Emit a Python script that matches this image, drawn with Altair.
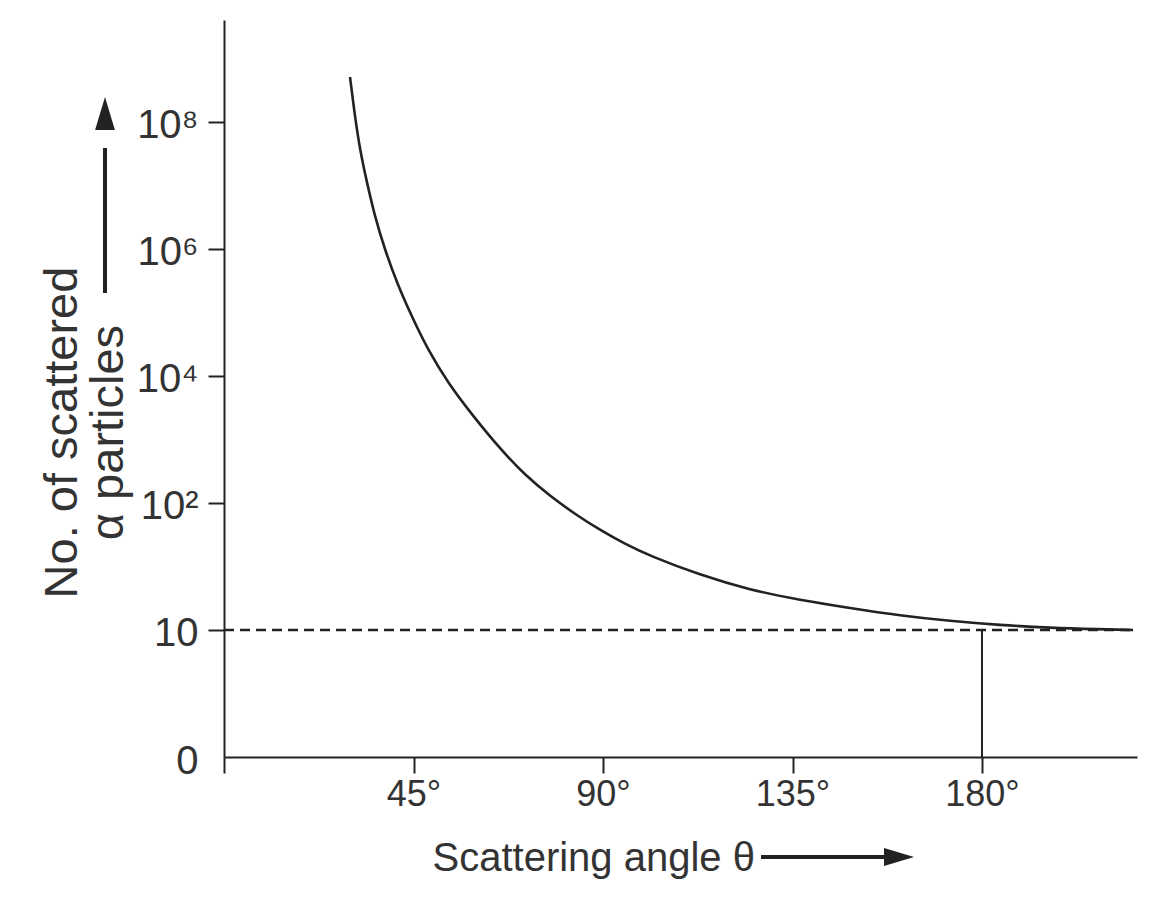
import altair as alt
import pandas as pd

# ---- data ----
# scattering angle (degrees) and curve height in axis-level units
# (levels: 0 -> "0", 1 -> "10", 2 -> "10²", 3 -> "10⁴", 4 -> "10⁶", 5 -> "10⁸")
theta = [29.92, 31.11, 32.30, 33.96, 35.86, 38.23, 41.08, 44.64, 48.44, 53.19,
         59.13, 66.02, 71.48, 77.41, 83.35, 89.29, 95.22, 101.16, 113.03,
         124.91, 136.78, 148.65, 160.53, 172.40, 184.27, 196.15, 208.02, 215.86]
level = [5.354, 5.039, 4.780, 4.520, 4.252, 3.992, 3.732, 3.465, 3.205, 2.945,
         2.685, 2.409, 2.220, 2.055, 1.913, 1.787, 1.677, 1.583, 1.433,
         1.315, 1.236, 1.173, 1.114, 1.071, 1.039, 1.017, 1.006, 1.000]

y_tick_values = [0, 1, 2, 3, 4, 5]
y_tick_labels = ["0", "10", "10²", "10⁴", "10⁶", "10⁸"]
x_tick_values = [0, 45, 90, 135, 180]
x_tick_labels = ["", "45°", "90°", "135°", "180°"]

baseline_level = [1.0]       # the dashed "10" line
baseline_end = [215.86]
marker_theta = [180]         # vertical line at 180°

FONT = "'Liberation Sans', Arial, sans-serif"
INK = "#222222"
TXT = "#333333"

curve_df = pd.DataFrame({"theta": theta, "level": level})
dash_df = pd.DataFrame({"x0": [0.0], "x1": baseline_end, "y": baseline_level})
vert_df = pd.DataFrame({"x": marker_theta, "y0": [0.0], "y1": baseline_level})
one = pd.DataFrame({"k": [0]})

y_expr = "[" + ",".join("'" + s + "'" for s in y_tick_labels) + "][datum.value]"
x_expr = "{" + ",".join("'" + str(v) + "':'" + s + "'" for v, s in zip(x_tick_values, x_tick_labels)) + "}[datum.value]"

x_scale = alt.Scale(domain=[0, 216.8], nice=False, zero=False)
y_scale = alt.Scale(domain=[0, 5.803], nice=False, zero=False)

x_axis = alt.Axis(
    values=x_tick_values, labelExpr=x_expr, grid=False,
    domainColor=INK, domainWidth=2, tickColor=INK, tickWidth=2, tickSize=16,
    labelFont=FONT, labelFontSize=36, labelColor=TXT, labelPadding=4,
    labelBaseline="top", labelFlush=False, labelOverlap=False,
    title="Scattering angle θ", titleFont=FONT, titleFontSize=40,
    titleFontWeight="normal", titleColor=TXT, titleAlign="left",
    titleAnchor="start", titleBaseline="alphabetic", titleX=208, titleY=113,
)
y_axis = alt.Axis(
    values=y_tick_values, labelExpr=y_expr, grid=False,
    domainColor=INK, domainWidth=2, tickColor=INK, tickWidth=2, tickSize=16,
    tickOpacity={"condition": {"test": "datum.value === 0", "value": 0}, "value": 1},
    labelFont=FONT, labelFontSize=40, labelColor=TXT, labelPadding=10,
    labelBaseline="middle", labelOffset=4, labelFlush=False, labelOverlap=False,
    title=["No. of scattered", "α particles\u00a0\u00a0\u2009"], titleFont=FONT,
    titleFontSize=47, titleFontWeight="normal", titleColor=TXT, titleAngle=270,
    titleAlign="center", titleBaseline="alphabetic", titleLineHeight=46,
    titleX=-148, titleY=412,
)

curve = alt.Chart(curve_df).mark_line(
    color=INK, strokeWidth=2.6, interpolate="basis"
).encode(
    x=alt.X("theta:Q", scale=x_scale, axis=x_axis),
    y=alt.Y("level:Q", scale=y_scale, axis=y_axis),
)

dashed = alt.Chart(dash_df).mark_rule(
    color=INK, strokeWidth=2.4, strokeDash=[10, 6]
).encode(
    x=alt.X("x0:Q", scale=x_scale), x2="x1:Q",
    y=alt.Y("y:Q", scale=y_scale),
)

vertical = alt.Chart(vert_df).mark_rule(color=INK, strokeWidth=2).encode(
    x=alt.X("x:Q", scale=x_scale),
    y=alt.Y("y0:Q", scale=y_scale), y2="y1:Q",
)

# decorative arrows next to the axis titles (pixel offsets from the plot origin)
y_shaft = alt.Chart(one).mark_rule(color=INK, strokeWidth=4).encode(
    x=alt.value(-119), y=alt.value(273), y2=alt.value(128)
)
y_head = alt.Chart(one).mark_point(
    shape="M0,-1L-0.6,1L0.6,1Z", filled=True, color=INK, opacity=1, size=1089
).encode(x=alt.value(-119), y=alt.value(93.5))

x_shaft = alt.Chart(one).mark_rule(color=INK, strokeWidth=4).encode(
    x=alt.value(537), x2=alt.value(662), y=alt.value(837)
)
x_head = alt.Chart(one).mark_point(
    shape="M1,0L-1,-0.6L-1,0.6Z", filled=True, color=INK, opacity=1, size=900
).encode(x=alt.value(675), y=alt.value(837))

chart = alt.layer(
    dashed, vertical, curve, y_shaft, y_head, x_shaft, x_head
).properties(
    width=913, height=737,
    padding={"left": 216, "top": 12, "right": 16, "bottom": 130},
    autosize=alt.AutoSizeParams(type="none"),
    background="white",
).configure_view(stroke=None)

chart.save("out.html", embed_options={"renderer": "svg", "actions": False})
